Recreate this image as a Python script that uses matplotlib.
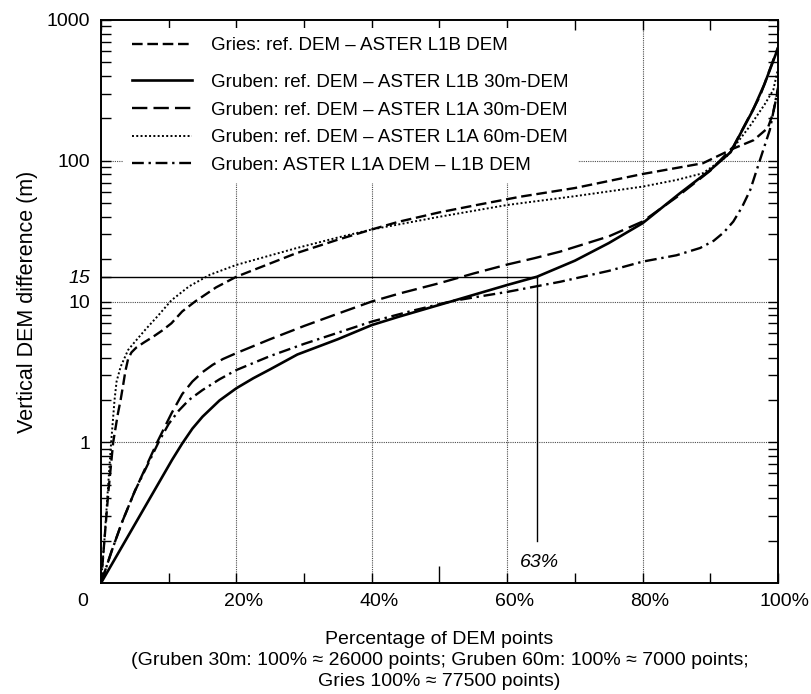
import numpy as np
import matplotlib
matplotlib.use('Agg')
import matplotlib.pyplot as plt
import matplotlib.transforms as mtransforms
from matplotlib.ticker import LogLocator, NullFormatter

plt.rcParams['font.family'] = ['Liberation Sans', 'DejaVu Sans']

# Gries: ref. DEM - ASTER L1B DEM
gries_pct = [0, 0.5, 1.1, 1.8, 2.5, 2.9, 3.3, 3.6, 4.0, 4.5, 5.2, 6.3, 7.7, 9, 10.4, 12, 13.9, 17,
             20, 28.8, 35, 40, 44, 50, 56, 62, 70, 80, 88.9, 93.4, 96.4, 98.5, 99.3, 100]
gries_val = [0.1, 0.2, 0.45, 1.0, 1.6, 2.0, 2.6, 3.2, 3.9, 4.35, 4.7, 5.1, 5.62, 6.2, 7.0, 8.5, 10.0,
             12.6, 15, 22, 27.5, 32.5, 36.9, 43, 49, 55.6, 64, 80.5, 96, 122, 140, 171, 220, 320]

# Gruben: ref. DEM - ASTER L1B 30m-DEM
l1b30_pct = [0, 10.5, 12, 13.5, 15, 17.5, 20, 22.5, 25, 29, 35, 40, 44, 52, 60, 64.4, 70,
             75, 80, 85.5, 90, 93, 96.3, 98, 100]
l1b30_val = [0.1, 0.75, 0.98, 1.25, 1.52, 1.98, 2.42, 2.85, 3.3, 4.2, 5.4, 6.8, 7.8,
             10.1, 13.1, 15, 19.5, 26, 36, 58.7, 86, 115, 229, 350, 630]

# Gruben: ref. DEM - ASTER L1A 30m-DEM
l1a30_pct = [0, 1.6, 3.1, 5, 8.3, 10.4, 12, 13.5, 15, 16.5, 18, 20, 25, 30, 35, 40, 44.1, 50, 55,
             60, 64, 67.8, 75, 80, 85, 90, 93.4, 97.3, 100]
l1a30_val = [0.1, 0.17, 0.27, 0.45, 1.0, 1.6, 2.2, 2.7, 3.15, 3.55, 3.9, 4.3, 5.4, 6.7, 8.2, 10,
             11.4, 13.5, 15.8, 18.3, 20.3, 22.6, 29, 37, 55, 85, 126, 285, 640]

# Gruben: ref. DEM - ASTER L1A 60m-DEM
l1a60_pct = [0, 0.5, 1.0, 1.5, 2.0, 2.3, 2.9, 4.0, 4.9, 6.5, 8.5, 10.4, 13, 16.1, 20, 28.8, 35, 40,
             50, 60, 70, 80, 85, 88.9, 92.4, 95.8, 98, 99.3, 100]
l1a60_val = [0.1, 0.2, 0.45, 1.0, 2.0, 2.7, 3.44, 4.52, 5.1, 6.27, 8.0, 10.2, 12.8, 15.5, 18.2, 23.9,
             28.5, 32.5, 40, 48.5, 56, 65.5, 73, 81.5, 107, 175, 250, 318, 450]

# Gruben: ASTER L1A DEM - L1B DEM
diff_pct = [0, 1.6, 3.1, 5, 8.5, 10, 11.5, 13, 15, 17.5, 20, 25, 30, 35, 40, 46, 52, 60, 67.8, 75,
            80, 85, 88.5, 90.5, 92, 93.4, 94.7, 95.9, 97.3, 98.8, 100]
diff_val = [0.1, 0.17, 0.27, 0.45, 1.0, 1.35, 1.68, 2.0, 2.35, 2.8, 3.26, 4.1, 5.0, 6.0, 7.2, 8.6,
            10.1, 11.7, 13.8, 16.5, 19.2, 21.3, 24, 27, 31, 37, 47, 62, 100, 166, 330]

mark_val = 15
mark_pct = 64.4
mark_label = '63%'

x_ticks = [0, 20, 40, 60, 80, 100]
x_labels = ['0', '20%', '40%', '60%', '80%', '100%']
y_ticks = [1, 10, 15, 100, 1000]
y_labels = ['1', '10', '15', '100', '1000']

fig = plt.figure(figsize=(8.12, 6.94), dpi=100)
ax = fig.add_axes([101 / 812, 1 - 583 / 694, 677 / 812, 563 / 694])
ax.set_yscale('log')
ax.set_xlim(0, 100)
ax.set_ylim(0.1, 1000)

grid_kw = dict(color='0.3', lw=0.8, ls=(0, (1, 1)), zorder=1)
for v in [1, 10, 100]:
    ax.axhline(v, **grid_kw)
for p in [20, 40, 60, 80]:
    ax.axvline(p, **grid_kw)

l_gries, = ax.plot(gries_pct, gries_val, color='black', lw=1.7, ls=(0, (4.5, 2)), zorder=3)
l_l1b, = ax.plot(l1b30_pct, l1b30_val, color='black', lw=1.9, ls='-', zorder=3)
l_l1a30, = ax.plot(l1a30_pct, l1a30_val, color='black', lw=1.7, ls=(0, (6.5, 2.6)), zorder=3)
l_l1a60, = ax.plot(l1a60_pct, l1a60_val, color='black', lw=1.4, ls=(0, (1, 1.2)), zorder=3)
l_diff, = ax.plot(diff_pct, diff_val, color='black', lw=1.7, ls=(0, (5, 2, 1, 2)), zorder=3)

# 15 m / 63% guide lines
ax.plot([0, mark_pct], [mark_val, mark_val], color='black', lw=1, zorder=2)
ax.plot([mark_pct, mark_pct], [mark_val, 0.2], color='black', lw=1, zorder=2)
ax.text(mark_pct + 0.3, 0.14, mark_label, fontsize=14, fontstyle='italic', ha='center', va='center')

leg_kw = dict(loc='upper left', frameon=True, framealpha=1, facecolor='white', edgecolor='none',
              fancybox=False, borderpad=0.5, borderaxespad=0, handlelength=3.2,
              handletextpad=1.0, fontsize=13.5)
leg1 = ax.legend([l_gries], ['Gries: ref. DEM – ASTER L1B DEM'],
                 bbox_to_anchor=(0.032, 0.986), **leg_kw)
leg1.set_zorder(5)
ax.add_artist(leg1)
leg2 = ax.legend([l_l1b, l_l1a30, l_l1a60, l_diff],
                 ['Gruben: ref. DEM – ASTER L1B 30m-DEM',
                  'Gruben: ref. DEM – ASTER L1A 30m-DEM',
                  'Gruben: ref. DEM – ASTER L1A 60m-DEM',
                  'Gruben: ASTER L1A DEM – L1B DEM'],
                 bbox_to_anchor=(0.032, 0.921), labelspacing=0.56, **leg_kw)
leg2.set_zorder(5)

ax.set_xticks(x_ticks, x_labels)
ax.set_xticks([10, 30, 50, 70, 90], minor=True)
ax.tick_params(axis='x', which='both', direction='in', top=True, length=7, width=1,
               pad=7, labelsize=14)
t50 = ax.xaxis.get_minor_ticks()[2]
t50.tick1line.set_markersize(12)
t50.tick2line.set_markersize(12)
for i, lab in enumerate(ax.get_xticklabels()):
    dx = -0.18 if i == 0 else 0.07
    lab.set_transform(lab.get_transform() + mtransforms.ScaledTranslation(dx, 0, fig.dpi_scale_trans))

ax.set_yticks(y_ticks, y_labels)
ax.yaxis.set_minor_locator(LogLocator(base=10, subs=np.arange(2, 10), numticks=20))
ax.yaxis.set_minor_formatter(NullFormatter())
ax.tick_params(axis='y', which='both', direction='in', right=True, length=7, width=1,
               pad=8, labelsize=14)
ax.get_yticklabels()[2].set_fontstyle('italic')
ax.yaxis.get_major_ticks()[2].tick2line.set_visible(False)

for s in ax.spines.values():
    s.set_linewidth(1.4)

ax.set_ylabel('Vertical DEM difference (m)', fontsize=15.5, labelpad=6)
ax.set_xlabel('Percentage of DEM points\n(Gruben 30m: 100% ≈ 26000 points; Gruben 60m: 100% ≈ 7000 points;\n'
              'Gries 100% ≈ 77500 points)', fontsize=14, labelpad=15, linespacing=1.32)

fig.savefig('out.png', dpi=100)
